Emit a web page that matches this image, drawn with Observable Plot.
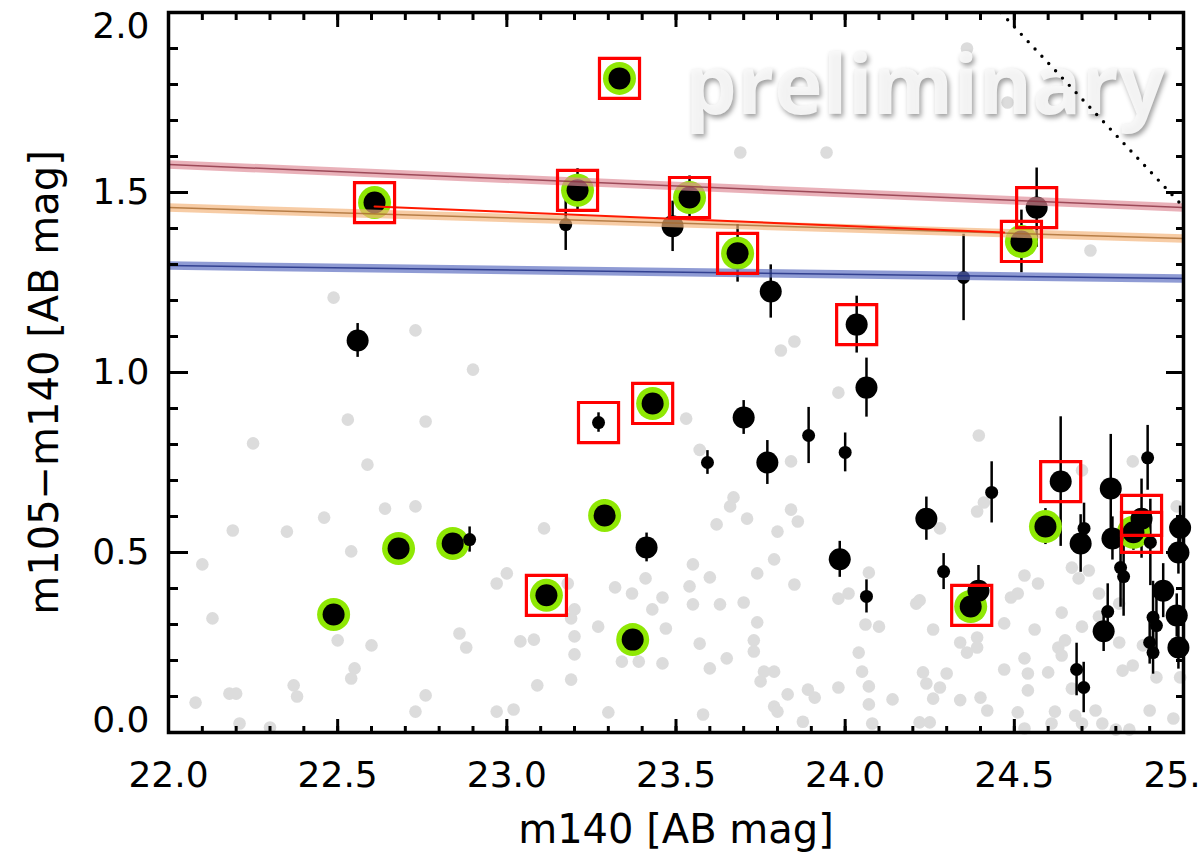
<!DOCTYPE html>
<html><head><meta charset="utf-8">
<script src="https://cdn.jsdelivr.net/npm/d3@7"></script>
<script src="https://cdn.jsdelivr.net/npm/@observablehq/plot@0.6"></script>
<style>
html,body{margin:0;padding:0;background:#fff;overflow:hidden;}
</style></head><body><div id="chart"></div>
<script>
// ---- data ----
// detected objects: m140, colour, colour error, class (L = bright, S = faint)
const objX = [23.333,22.609,23.209,23.540,23.174,23.490,23.682,23.780,24.034,24.063,24.350,24.566,24.521,22.559,23.271,23.431,23.700,23.593,23.770,23.892,24.000,24.637,24.240,24.433,24.291,24.371,24.394,24.592,24.696,24.706,24.785,24.790,24.814,24.823,24.776,24.764,24.684,24.705,24.894,24.876,24.852,24.902,24.990,24.985,24.940,24.980,24.910,24.920,24.985,24.910,24.900,22.488,22.680,22.840,22.890,23.289,23.372,23.117,23.413,23.984,24.063];
const objY = [1.817,1.472,1.506,1.486,1.411,1.406,1.331,1.225,1.133,0.958,1.264,1.458,1.364,1.089,0.861,0.914,0.875,0.750,0.750,0.825,0.778,0.697,0.594,0.667,0.447,0.350,0.394,0.572,0.525,0.567,0.678,0.539,0.458,0.433,0.336,0.281,0.175,0.125,0.763,0.594,0.556,0.528,0.569,0.500,0.394,0.325,0.320,0.297,0.236,0.222,0.250,0.328,0.511,0.525,0.536,0.603,0.258,0.381,0.514,0.481,0.378];
const objErr = [0.035,0,0.06,0.06,0.072,0.07,0.08,0.074,0.079,0.082,0.12,0.11,0.087,0.047,0.027,0.02,0.047,0.033,0.061,0.078,0.054,0.18,0.06,0.085,0.05,0.045,0.07,0.05,0.08,0.07,0.15,0.06,0.11,0.11,0.077,0.056,0.073,0.07,0.09,0.11,0.05,0.12,0.06,0.06,0.075,0.06,0.10,0.08,0.06,0.06,0.06,0,0,0,0.035,0.044,0,0,0.04,0.05,0.046];
const objKind = ["L","L","L","L","S","L","L","L","L","L","S","L","L","L","S","L","L","S","L","S","S","L","L","S","S","L","L","L","L","S","L","L","S","S","S","L","S","S","S","L","L","S","L","L","L","L","S","S","L","S","S","L","L","L","S","L","L","L","L","L","S"];

// green-ring selected objects
const ringX = [23.333,22.609,23.209,23.540,23.682,24.521,23.431,24.371,24.592,24.852,22.488,22.680,22.840,23.289,23.372,23.117];
const ringY = [1.817,1.472,1.506,1.486,1.331,1.364,0.914,0.350,0.572,0.556,0.328,0.511,0.525,0.603,0.258,0.381];

// red-box selected objects
const boxX = [23.333,22.609,23.209,23.540,23.682,24.034,24.566,24.521,23.271,23.431,24.637,24.374,24.876,24.876,23.117];
const boxY = [1.817,1.472,1.506,1.486,1.331,1.133,1.458,1.364,0.861,0.914,0.697,0.353,0.603,0.556,0.381];

// background (field) objects
const grayX = [23.69,23.945,24.48,24.36,24.725,22.488,22.73,22.90,22.53,22.76,22.25,23.81,23.85,23.98,23.53,24.395,23.57,
22.588,22.64,22.73,22.46,22.19,22.35,22.54,22.10,23.00,22.97,23.11,23.18,22.13,23.20,23.19,23.27,22.50,22.60,22.86,22.88,23.04,23.08,23.20,23.20,22.55,22.54,22.37,22.38,22.18,22.20,22.08,22.76,23.09,23.19,22.73,22.97,23.02,22.21,22.30,
23.84,23.67,23.66,23.62,23.71,23.84,23.86,23.80,23.55,23.60,23.74,23.79,23.85,24.07,23.32,23.37,23.41,23.43,23.46,23.54,23.55,23.63,23.70,23.98,24.01,23.74,23.73,23.73,23.34,23.39,23.46,23.47,23.57,23.65,23.60,23.76,23.79,23.75,23.83,23.89,23.91,23.79,23.80,23.98,24.04,24.05,24.07,24.07,24.14,24.23,24.24,24.28,24.30,24.26,24.26,24.21,24.22,24.06,24.10,23.30,23.58,23.875,
24.85,24.70,24.98,24.41,24.39,24.28,24.67,24.69,24.72,24.53,24.57,24.51,24.49,24.64,24.75,24.81,24.47,24.56,24.70,24.75,24.34,24.36,24.39,24.39,24.63,24.65,24.88,24.81,24.47,24.53,24.54,24.60,24.82,24.85,24.92,24.34,24.40,24.54,24.08,24.42,24.22,24.25,24.51,24.53,24.61,24.62,24.67,24.68,24.70,24.74,24.76,24.80,24.90,24.97,24.99,24.84,24.64];
const grayY = [1.611,1.611,1.75,1.90,1.339,1.208,1.117,1.008,0.869,0.864,0.803,1.061,1.086,0.944,0.872,0.825,0.785,
0.744,0.622,0.628,0.597,0.561,0.558,0.503,0.467,0.442,0.414,0.567,0.414,0.317,0.342,0.317,0.294,0.256,0.242,0.275,0.236,0.253,0.258,0.267,0.217,0.178,0.150,0.131,0.100,0.108,0.108,0.083,0.103,0.131,0.147,0.058,0.058,0.064,0.025,0.014,
0.753,0.653,0.628,0.578,0.594,0.619,0.586,0.558,0.467,0.431,0.442,0.481,0.411,0.444,0.403,0.386,0.428,0.342,0.375,0.406,0.356,0.356,0.361,0.372,0.386,0.306,0.256,0.225,0.197,0.197,0.192,0.289,0.247,0.206,0.178,0.169,0.169,0.142,0.106,0.119,0.097,0.072,0.058,0.125,0.222,0.169,0.128,0.078,0.092,0.167,0.136,0.125,0.164,0.094,0.286,0.358,0.367,0.300,0.294,0.056,0.050,0.030,
0.753,0.728,0.628,0.639,0.614,0.567,0.458,0.428,0.450,0.436,0.414,0.386,0.375,0.333,0.386,0.358,0.303,0.286,0.294,0.322,0.250,0.222,0.264,0.236,0.236,0.256,0.242,0.250,0.175,0.206,0.164,0.167,0.172,0.186,0.153,0.090,0.097,0.117,0.025,0.061,0.028,0.028,0.056,0.011,0.025,0.058,0.122,0.047,0.025,0.061,0.025,0.008,0.061,0.039,0.153,0.008,0.214];

// model tracks (ends at m140 = 22 and 25)
const trackX = [22.0, 25.0];
const pinkY = [1.578, 1.458];
const orangeY = [1.458, 1.372];
const blueY = [1.297, 1.261];
// thin red track
const redX = [22.609, 24.47];
const redY = [1.461, 1.389];
// dotted limit line
const limX = [24.46, 25.0];
const limY = [2.0, 1.46];

// axis ticks
const xMajor = [22.0, 22.5, 23.0, 23.5, 24.0, 24.5, 25.0];
const xMinor = d3.range(0, 31).map(i => 22 + i / 10);
const yMajor = [0.0, 0.5, 1.0, 1.5, 2.0];
const yMinor = d3.range(0, 21).map(i => i / 10);

// ---- build ----
const objects = objX.map((x, i) => ({x, y: objY[i], err: objErr[i], kind: objKind[i]}));
const rings = ringX.map((x, i) => ({x, y: ringY[i]}));
const boxes = boxX.map((x, i) => ({x, y: boxY[i]}));
const gray = grayX.map((x, i) => ({x, y: grayY[i]}));
const pts = (xs, ys) => xs.map((x, i) => ({x, y: ys[i]}));

const bandMarks = (ys, light, dark) => [
  Plot.line(pts(trackX, ys), {x: "x", y: "y", stroke: light, strokeWidth: 8.5, strokeOpacity: 0.68, clip: true}),
  Plot.line(pts(trackX, ys), {x: "x", y: "y", stroke: dark, strokeWidth: 1.5, strokeOpacity: 0.8, clip: true})
];

const noText = () => "";
const fmt = d3.format(".1f");
const yMid = yMajor.filter(v => v > yMajor[0] && v < yMajor[yMajor.length - 1]);
const chart = Plot.plot({
  width: 1199, height: 856,
  marginLeft: 168, marginRight: 16, marginTop: 12, marginBottom: 124,
  x: {domain: [22, 25], label: null},
  y: {domain: [0, 2], label: null},
  style: {fontFamily: "DejaVu Sans", fontSize: "36px", background: "#fff", color: "#000", overflow: "visible"},
  marks: [
    Plot.dot(gray, {x: "x", y: "y", r: 6.3, fill: "#dcdcdc"}),
    Plot.text(["preliminary"], {text: d => d, frameAnchor: "top-right", textAnchor: "end", lineAnchor: "middle",
      dx: -18, dy: 75, fontSize: 82, fontWeight: "bold", fontFamily: "Open Sans", fill: "#f8f8f8", fillOpacity: 0.94}),
    Plot.ruleX(objects.filter(d => d.err > 0), {x: "x", y1: d => d.y - d.err, y2: d => d.y + d.err, stroke: "#000", strokeWidth: 2.5}),
    Plot.dot(rings, {x: "x", y: "y", r: 16.5, fill: "#8fe804"}),
    Plot.dot(objects.filter(d => d.kind === "L"), {x: "x", y: "y", r: 11, fill: "#000"}),
    Plot.dot(objects.filter(d => d.kind === "S"), {x: "x", y: "y", r: 6.5, fill: "#000"}),
    ...bandMarks(pinkY, "#de8c98", "#8a3040"),
    ...bandMarks(orangeY, "#f3b47a", "#a86a30"),
    ...bandMarks(blueY, "#5a6cc0", "#1c2a80"),
    Plot.line(pts(redX, redY), {x: "x", y: "y", stroke: "#ff1a00", strokeWidth: 2}),
    Plot.dot(boxes, {x: "x", y: "y", symbol: "square", r: 22.6, stroke: "#ff0000", strokeWidth: 3.2, fill: "none"}),
    Plot.line(pts(limX, limY), {x: "x", y: "y", stroke: "#000", strokeWidth: 3.4, strokeDasharray: "0 10", strokeLinecap: "round", clip: true}),
    // axes (IDL-style inward ticks)
    Plot.axisY({ticks: yMinor, anchor: "left", tickSize: -10, strokeWidth: 3, tickFormat: noText, label: null}),
    Plot.axisY({ticks: yMajor, anchor: "left", tickSize: -20, strokeWidth: 3, tickFormat: noText, label: null}),
    Plot.axisY({ticks: yMid, anchor: "left", tickSize: 0, tickPadding: 19, tickFormat: fmt, label: null}),
    Plot.axisY({ticks: [yMajor[yMajor.length - 1]], anchor: "left", tickSize: 0, tickPadding: 19, dy: 14, tickFormat: fmt, label: null}),
    Plot.axisY({ticks: [yMajor[0]], anchor: "left", tickSize: 0, tickPadding: 19, dy: -12, tickFormat: fmt, label: null}),
    Plot.axisY({ticks: yMinor, anchor: "right", tickSize: -8, strokeWidth: 3, tickFormat: noText, label: null}),
    Plot.axisY({ticks: yMajor, anchor: "right", tickSize: -18, strokeWidth: 3, tickFormat: noText, label: null}),
    Plot.axisX({ticks: xMinor, anchor: "bottom", tickSize: -6, strokeWidth: 3, tickFormat: noText, label: null}),
    Plot.axisX({ticks: xMajor, anchor: "bottom", tickSize: -13, strokeWidth: 3, tickPadding: 42, tickFormat: fmt, label: null}),
    Plot.axisX({ticks: xMinor, anchor: "top", tickSize: -7, strokeWidth: 3, tickFormat: noText, label: null}),
    Plot.axisX({ticks: xMajor, anchor: "top", tickSize: -14, strokeWidth: 3, tickFormat: noText, label: null}),
    Plot.frame({stroke: "#000", strokeWidth: 3.5}),
    Plot.text(["m105−m140 [AB mag]"], {text: d => d, frameAnchor: "left", rotate: -90, dx: -123, dy: 10,
      textAnchor: "middle", lineAnchor: "middle", fontSize: 40}),
    Plot.text(["m140 [AB mag]"], {text: d => d, frameAnchor: "bottom", dy: 98, textAnchor: "middle", lineAnchor: "middle", fontSize: 40})
  ]
});
document.getElementById("chart").appendChild(chart);
chart.querySelectorAll("text").forEach(t => {
  if (t.textContent === "preliminary") t.style.filter = "drop-shadow(2px 3px 2.5px rgba(0,0,0,0.4))";
});
</script>
</body></html>
